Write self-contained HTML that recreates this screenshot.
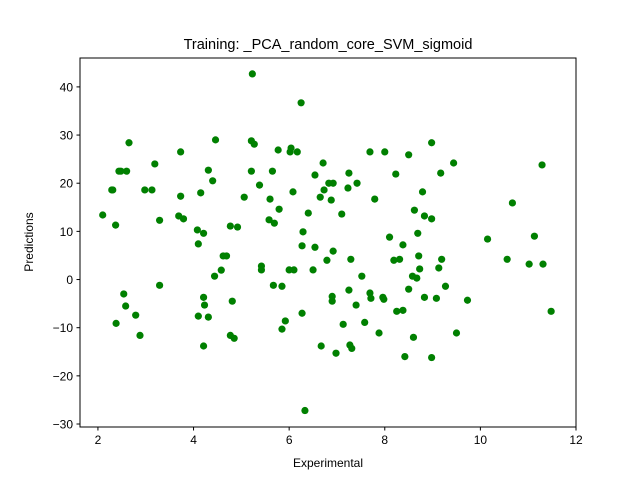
<!DOCTYPE html>
<html><head><meta charset="utf-8">
<style>
html,body{margin:0;padding:0;background:#fff;}
svg{display:block;font-family:"Liberation Sans","DejaVu Sans",sans-serif;}
</style></head>
<body>
<svg id="chart" width="640" height="480" xmlns="http://www.w3.org/2000/svg">
<rect width="640" height="480" fill="#fff"/>
<text x="328" y="49" text-anchor="middle" font-size="14.5">Training: _PCA_random_core_SVM_sigmoid</text>
<g id="plot"></g>
<g id="xt"></g>
<g id="yt"></g>
<rect x="80" y="58" width="496" height="369" fill="none" stroke="#000" stroke-width="1"/>
<text x="328" y="467" text-anchor="middle" font-size="12">Experimental</text>
<text transform="translate(33,242) rotate(-90)" text-anchor="middle" font-size="12">Predictions</text>
</svg>
<script>
const xTicks=[2,4,6,8,10,12];
const yTicks=[-30,-20,-10,0,10,20,30,40];
const expX=[2.10,2.29,2.31,2.37,2.44,2.48,2.38,2.54,2.58,2.60,2.65,2.79,2.88,2.98,3.13,3.19,3.29,3.29,3.69,3.73,3.73,3.79,4.08,4.10,4.15,4.21,4.10,4.21,4.23,4.21,4.31,4.31,4.40,4.46,4.44,4.58,4.62,4.69,4.77,4.77,4.85,4.81,4.92,5.06,5.23,5.21,5.27,5.21,5.38,5.42,5.42,5.58,5.60,5.65,5.69,5.67,5.79,5.77,5.85,5.85,5.92,6.0,6.02,6.04,6.08,6.10,6.17,6.25,6.27,6.29,6.27,6.33,6.40,6.50,6.54,6.54,6.65,6.67,6.71,6.73,6.79,6.83,6.88,6.92,6.90,6.90,6.92,6.98,7.10,7.13,7.23,7.25,7.25,7.29,7.27,7.31,7.40,7.42,7.52,7.58,7.69,7.69,7.71,7.79,7.88,7.96,7.98,8.0,8.10,8.19,8.23,8.25,8.31,8.38,8.38,8.42,8.50,8.50,8.58,8.60,8.62,8.67,8.69,8.71,8.73,8.79,8.83,8.83,8.98,8.98,8.98,9.08,9.13,9.19,9.27,9.17,9.44,9.50,9.73,10.15,10.56,10.67,11.02,11.13,11.29,11.31,11.48];
const predY=[13.4,18.6,18.6,11.3,22.5,22.5,-9.1,-3.0,-5.5,22.5,28.4,-7.4,-11.6,18.6,18.6,24.0,12.3,-1.2,13.2,17.3,26.5,12.6,10.3,7.4,18.0,9.6,-7.6,-3.7,-5.3,-13.8,-7.8,22.7,20.5,29.0,0.7,1.95,4.9,4.9,11.1,-11.6,-12.2,-4.5,10.9,17.1,42.7,28.8,28.1,22.5,19.6,2.8,2.0,12.4,16.7,22.5,11.7,-1.2,14.6,26.9,-1.4,-10.3,-8.6,2.0,26.5,27.3,18.2,2.0,26.5,36.7,7.0,9.9,-7.0,-27.2,13.8,2.0,6.7,21.7,17.1,-13.8,24.2,18.6,4.0,20.0,16.5,20.0,-3.5,-4.5,5.9,-15.3,13.6,-9.3,19.0,22.1,-2.2,4.2,-13.6,-14.3,-5.3,20.0,0.7,-8.9,26.5,-2.8,-3.9,16.7,-11.1,-3.7,-4.1,26.5,8.8,4.0,21.9,-6.6,4.2,-6.4,7.2,-16.0,-2.0,25.9,0.7,-12.0,14.4,0.3,9.6,4.9,2.2,18.2,-3.7,13.2,12.6,28.4,-16.2,-3.9,2.4,4.2,-1.4,22.1,24.2,-11.1,-4.3,8.4,4.2,15.9,3.2,9.0,23.8,3.2,-6.6];
const X0=80,X1=576,Y0=427,Y1=58,xmin=1.625,xmax=12,ymin=-30.62,ymax=46.0;
const sx=v=>X0+(v-xmin)/(xmax-xmin)*(X1-X0);
const sy=v=>Y0-(v-ymin)/(ymax-ymin)*(Y0-Y1);
const NS="http://www.w3.org/2000/svg";
const plot=document.getElementById('plot'),xt=document.getElementById('xt'),yt=document.getElementById('yt');
for(let i=0;i<expX.length;i++){
  const c=document.createElementNS(NS,'circle');
  c.setAttribute('cx',sx(expX[i]));c.setAttribute('cy',sy(predY[i]));c.setAttribute('r',3.6);c.setAttribute('fill','#008000');
  
  
  plot.appendChild(c);
}
xTicks.forEach(t=>{
  const x=sx(t);
  const l=document.createElementNS(NS,'line');
  l.setAttribute('x1',x);l.setAttribute('x2',x);l.setAttribute('y1',Y0);l.setAttribute('y2',Y0+3.5);l.setAttribute('stroke','#000');
  
  
  xt.appendChild(l);
  const tx=document.createElementNS(NS,'text');
  tx.setAttribute('x',x);tx.setAttribute('y',Y0+17);tx.setAttribute('text-anchor','middle');tx.setAttribute('font-size','12');
  tx.textContent=t;
  
  
  xt.appendChild(tx);
});
yTicks.forEach(t=>{
  const y=sy(t);
  const l=document.createElementNS(NS,'line');
  l.setAttribute('x1',X0-3.5);l.setAttribute('x2',X0);l.setAttribute('y1',y);l.setAttribute('y2',y);l.setAttribute('stroke','#000');
  
  
  yt.appendChild(l);
  const tx=document.createElementNS(NS,'text');
  tx.setAttribute('x',X0-7);tx.setAttribute('y',y+4.5);tx.setAttribute('text-anchor','end');tx.setAttribute('font-size','12');
  tx.textContent=t<0?'\u2212'+Math.abs(t):t;
  
  
  yt.appendChild(tx);
});
</script>
</body></html>
